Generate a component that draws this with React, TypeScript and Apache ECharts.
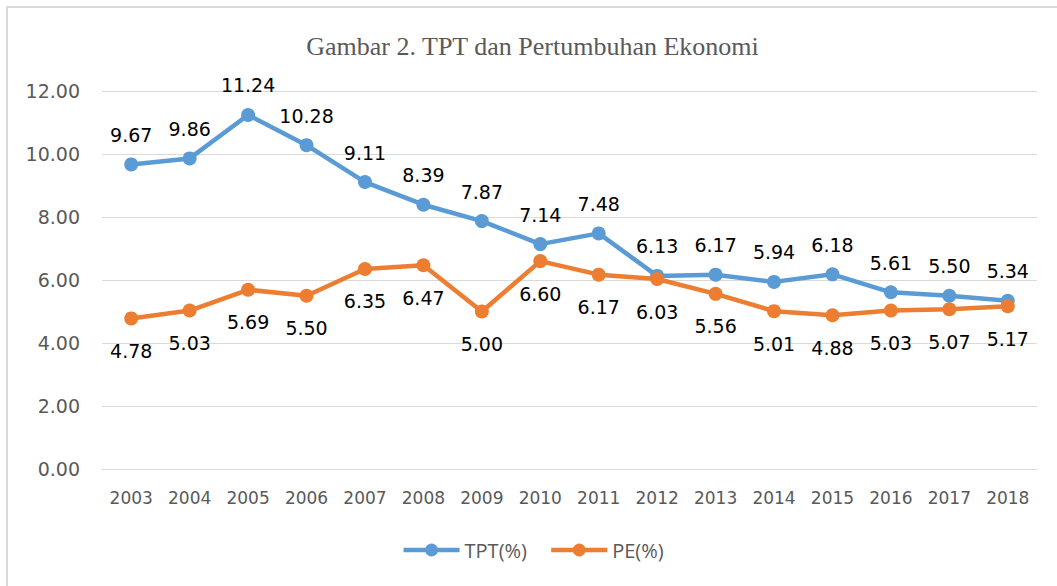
import React, { useEffect, useRef } from "react";
import * as echarts from "echarts";

const years = ["2003","2004","2005","2006","2007","2008","2009","2010","2011","2012","2013","2014","2015","2016","2017","2018"];
const tpt = [9.67, 9.86, 11.24, 10.28, 9.11, 8.39, 7.87, 7.14, 7.48, 6.13, 6.17, 5.94, 6.18, 5.61, 5.50, 5.34];
const pe = [4.78, 5.03, 5.69, 5.50, 6.35, 6.47, 5.00, 6.60, 6.17, 6.03, 5.56, 5.01, 4.88, 5.03, 5.07, 5.17];
const titleText = "Gambar 2. TPT dan Pertumbuhan Ekonomi";

export default function App() {
  const ref = useRef<HTMLDivElement>(null);
  useEffect(() => {
    if (!ref.current) return;
    const chart = echarts.init(ref.current, null, { renderer: "svg" });
    const labelFont = { fontFamily: "DejaVu Sans", fontSize: 19, color: "#000" };
    chart.setOption({
      animation: false,
      backgroundColor: "#fff",
      title: {
        text: titleText,
        left: "center",
        top: 20,
        textStyle: { fontFamily: "Liberation Serif", fontWeight: "normal", fontSize: 26, color: "#595959" },
      },
      grid: { left: 94, right: 20, top: 83, bottom: 117 },
      legend: {
        bottom: 21,
        left: "center",
        itemWidth: 56,
        itemHeight: 16,
        itemGap: 22,
        lineStyle: { width: 4.5 },
        textStyle: { fontFamily: "Open Sans", fontSize: 20, color: "#595959" },
        data: ["TPT(%)", "PE(%)"],
      },
      xAxis: {
        type: "category",
        data: years,
        boundaryGap: true,
        axisLine: { show: true, lineStyle: { color: "#d9d9d9", width: 1 } },
        axisTick: { show: false },
        axisLabel: { margin: 20, fontFamily: "DejaVu Sans", fontSize: 17, color: "#595959" },
      },
      yAxis: {
        type: "value",
        min: 0,
        max: 12,
        interval: 2,
        axisLine: { show: false },
        axisTick: { show: false },
        splitLine: { lineStyle: { color: "#d9d9d9", width: 1 } },
        axisLabel: {
          margin: 22,
          fontFamily: "DejaVu Sans",
          fontSize: 19,
          color: "#595959",
          formatter: (v: number) => v.toFixed(2),
        },
      },
      series: [
        {
          name: "TPT(%)",
          type: "line",
          data: tpt,
          color: "#5b9bd5",
          lineStyle: { width: 4.5, color: "#5b9bd5" },
          symbol: "circle",
          symbolSize: 14,
          itemStyle: { color: "#5b9bd5" },
          label: {
            show: true,
            position: "top",
            distance: 13,
            formatter: (p: any) => p.value.toFixed(2),
            ...labelFont,
          },
        },
        {
          name: "PE(%)",
          type: "line",
          data: pe,
          color: "#ed7d31",
          lineStyle: { width: 4.5, color: "#ed7d31" },
          symbol: "circle",
          symbolSize: 14,
          itemStyle: { color: "#ed7d31" },
          label: {
            show: true,
            position: "bottom",
            distance: 16,
            formatter: (p: any) => p.value.toFixed(2),
            ...labelFont,
          },
        },
      ],
    });
    return () => chart.dispose();
  }, []);
  return (
    <div
      style={{
        position: "absolute",
        left: 6,
        top: 6,
        width: 1051,
        height: 580,
        boxSizing: "border-box",
        borderTop: "2px solid #d9d9d9",
        borderLeft: "2px solid #d9d9d9",
        background: "#fff",
      }}
    >
      <div ref={ref} style={{ width: 1049, height: 578 }} />
    </div>
  );
}
